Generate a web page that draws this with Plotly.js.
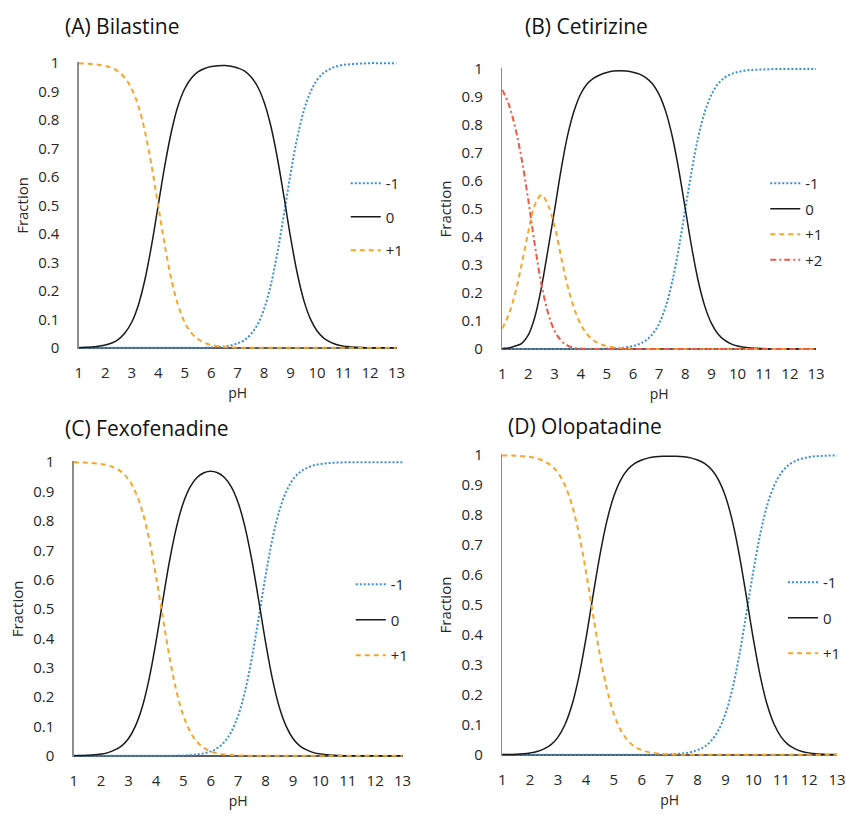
<!DOCTYPE html>
<html>
<head>
<meta charset="utf-8">
<script src="https://cdn.plot.ly/plotly-3.0.1.min.js"></script>
<style>html,body{margin:0;padding:0;background:#fff;}#chart{width:846px;height:816px;}</style>
</head>
<body>
<div id="chart"></div>
<script>
// pH grid (x values)
const pH = [1,1.25,1.5,1.75,2,2.25,2.5,2.75,3,3.25,3.5,3.75,4,4.25,4.5,4.75,5,5.25,5.5,5.75,6,6.25,6.5,6.75,7,7.25,7.5,7.75,8,8.25,8.5,8.75,9,9.25,9.5,9.75,10,10.25,10.5,10.75,11,11.25,11.5,11.75,12,12.25,12.5,12.75,13];

// (A) Bilastine
const A_m1 = [0,0,0,0,0,0,0,0,0,0,0,0,0,0,0,0,0,0,0,0,0.0016,0.003,0.005,0.009,0.016,0.027,0.048,0.082,0.137,0.22,0.334,0.47,0.613,0.738,0.834,0.899,0.941,0.966,0.98,0.989,0.994,0.996,0.998,0.999,1,1,1,1,1];
const A_0  = [0,0.002,0.003,0.006,0.01,0.017,0.03,0.053,0.09,0.15,0.24,0.36,0.5,0.64,0.76,0.85,0.91,0.947,0.969,0.981,0.988,0.991,0.992,0.989,0.983,0.973,0.952,0.918,0.863,0.78,0.666,0.53,0.387,0.262,0.166,0.101,0.059,0.034,0.02,0.011,0.006,0.004,0.002,0.001,0,0,0,0,0];
const A_p1 = [1,0.998,0.997,0.994,0.99,0.983,0.97,0.947,0.91,0.85,0.76,0.64,0.5,0.36,0.24,0.15,0.09,0.053,0.031,0.018,0.01,0.006,0.003,0.002,0.001,0,0,0,0,0,0,0,0,0,0,0,0,0,0,0,0,0,0,0,0,0,0,0,0];

// (B) Cetirizine
const B_m1 = [0,0,0,0,0,0,0,0,0,0,0,0,0,0,0,0,0.001,0.002,0.003,0.0056,0.01,0.018,0.031,0.053,0.091,0.151,0.24,0.36,0.5,0.64,0.76,0.849,0.909,0.947,0.969,0.982,0.99,0.994,0.997,0.998,0.999,1,1,1,1,1,1,1,1];
const B_0  = [0.001,0.003,0.01,0.02,0.05,0.115,0.22,0.355,0.495,0.64,0.763,0.851,0.911,0.948,0.968,0.98,0.988,0.993,0.994,0.993,0.989,0.982,0.969,0.947,0.909,0.849,0.76,0.64,0.5,0.36,0.24,0.151,0.091,0.053,0.031,0.018,0.01,0.006,0.003,0.002,0.001,0,0,0,0,0,0,0,0];
const B_p1 = [0.073,0.123,0.2,0.305,0.42,0.515,0.55,0.515,0.44,0.33,0.225,0.145,0.088,0.052,0.03,0.017,0.01,0.005,0.003,0.0015,0.001,0,0,0,0,0,0,0,0,0,0,0,0,0,0,0,0,0,0,0,0,0,0,0,0,0,0,0,0];
const B_p2 = [0.926,0.874,0.79,0.675,0.53,0.37,0.23,0.13,0.065,0.03,0.012,0.004,0.001,0,0,0,0,0,0,0,0,0,0,0,0,0,0,0,0,0,0,0,0,0,0,0,0,0,0,0,0,0,0,0,0,0,0,0,0];

// (C) Fexofenadine
const C_m1 = [0,0,0,0,0,0,0,0,0,0,0,0,0,0.0003,0.0005,0.0007,0.0014,0.0026,0.0047,0.0086,0.015,0.027,0.0475,0.082,0.137,0.22,0.334,0.471,0.613,0.738,0.834,0.899,0.941,0.966,0.98,0.989,0.994,0.9965,0.998,0.999,1,1,1,1,1,1,1,1,1];
const C_0  = [0.0006,0.0011,0.002,0.0035,0.0063,0.011,0.02,0.034,0.059,0.101,0.166,0.262,0.387,0.529,0.666,0.779,0.862,0.916,0.948,0.964,0.969,0.964,0.948,0.916,0.862,0.779,0.666,0.529,0.387,0.262,0.166,0.101,0.059,0.034,0.02,0.011,0.006,0.0035,0.002,0.001,0,0,0,0,0,0,0,0,0];
const C_p1 = [0.9994,0.9989,0.998,0.9965,0.9937,0.989,0.98,0.966,0.941,0.899,0.834,0.738,0.613,0.471,0.334,0.22,0.137,0.082,0.0475,0.027,0.015,0.0086,0.0047,0.0026,0.0014,0.0007,0.0003,0,0,0,0,0,0,0,0,0,0,0,0,0,0,0,0,0,0,0,0,0,0];

// (D) Olopatadine
const D_m1 = [0,0,0,0,0,0,0,0,0,0,0,0,0,0,0,0,0,0,0,0,0.0002,0.0003,0.0005,0.0009,0.0016,0.0028,0.005,0.009,0.016,0.027,0.048,0.082,0.137,0.22,0.334,0.471,0.613,0.738,0.834,0.899,0.941,0.966,0.98,0.989,0.994,0.9965,0.998,0.999,0.999];
const D_0  = [0.0006,0.0011,0.002,0.0035,0.0063,0.011,0.02,0.034,0.059,0.101,0.166,0.262,0.387,0.529,0.666,0.78,0.863,0.918,0.952,0.9725,0.984,0.991,0.9945,0.9963,0.9968,0.9963,0.9945,0.991,0.984,0.9725,0.952,0.918,0.863,0.78,0.666,0.529,0.387,0.262,0.166,0.101,0.059,0.034,0.02,0.011,0.0063,0.0035,0.002,0.0011,0.0006];
const D_p1 = [0.999,0.999,0.998,0.9965,0.994,0.989,0.98,0.966,0.941,0.899,0.834,0.738,0.613,0.471,0.334,0.22,0.137,0.082,0.048,0.027,0.016,0.009,0.005,0.003,0.0016,0.0009,0.0005,0.0003,0,0,0,0,0,0,0,0,0,0,0,0,0,0,0,0,0,0,0,0,0];

const panelTitles = ['(A) Bilastine','(B) Cetirizine','(C) Fexofenadine','(D) Olopatadine'];
const seriesNames = ['-1','0','+1','+2'];
const xTitle = 'pH', yTitle = 'Fraction';

const W = 846, H = 816;
const BLUE = '#3a8ee0', BLACK = '#1a1a1a', ORANGE = '#f7a52a', RED = '#ef5a44';
const TXT = '#262626';
const styles = {
  '-1': {color: BLUE, dash: '2px,2px', width: 2},
  '0':  {color: BLACK, dash: 'solid', width: 1.5},
  '+1': {color: ORANGE, dash: '5px,4px', width: 2},
  '+2': {color: RED, dash: '6px,3px,2px,3px', width: 2}
};

const panels = [
  {ax: '', leg: 'legend', series: [A_m1, A_0, A_p1]},
  {ax: '2', leg: 'legend2', series: [B_m1, B_0, B_p1, B_p2]},
  {ax: '3', leg: 'legend3', series: [C_m1, C_0, C_p1]},
  {ax: '4', leg: 'legend4', series: [D_m1, D_0, D_p1]}
];

const traces = [];
panels.forEach((p, pi) => {
  p.series.forEach((ys, si) => {
    const name = seriesNames[si];
    const st = styles[name];
    traces.push({
      x: pH, y: ys, type: 'scatter', mode: 'lines', name: name,
      xaxis: 'x' + p.ax, yaxis: 'y' + p.ax, legend: p.leg,
      legendgroup: 'p' + pi + 's' + si,
      line: {color: st.color, dash: st.dash, width: st.width, shape: 'spline', smoothing: 1},
      hoverinfo: 'skip'
    });
  });
});

// plot boxes in pixels: [left, right, top, bottom]
const boxes = [[79,398,62,349],[504,819,68,350],[74,404,461,757],[504,840,454,756]];
const font = 'Open Sans, Liberation Sans, sans-serif';
const layout = {
  width: W, height: H, margin: {l:0,r:0,t:0,b:0},
  paper_bgcolor: '#fff', plot_bgcolor: '#fff',
  font: {family: font, color: TXT, size: 15},
  annotations: [], showlegend: true
};
boxes.forEach((b, i) => {
  const s = i === 0 ? '' : String(i + 1);
  layout['xaxis' + s] = {
    domain: [b[0]/W, b[1]/W], anchor: 'y' + s, range: [1, 13],
    tickmode: 'linear', tick0: 1, dtick: 1, showgrid: false, zeroline: false,
    showline: false, ticks: '', ticklabelstandoff: 13, ticklabeloverflow: 'allow',
    tickfont: {size: 15, color: TXT, family: font},
    title: {text: xTitle, font: {size: 14, color: TXT, family: font}, standoff: 7}
  };
  layout['yaxis' + s] = {
    domain: [1 - b[3]/H, 1 - b[2]/H], anchor: 'x' + s, range: [-0.004, 1.004],
    tickmode: 'linear', tick0: 0, dtick: 0.1, showgrid: false,
    zeroline: true, zerolinecolor: '#5a5a5a', zerolinewidth: 1.5,
    showline: true, linecolor: '#8c8c8c', linewidth: 1.5, ticks: '', ticklabelstandoff: 15,
    tickfont: {size: 15, color: TXT, family: font},
    title: {text: yTitle, font: {size: 15, color: TXT, family: font}, standoff: 6}
  };
});

const titlePos = [[63,26],[525,26],[63,428],[508,426]];
titlePos.forEach((t, i) => {
  layout.annotations.push({
    text: panelTitles[i], xref: 'paper', yref: 'paper', x: t[0]/W, y: 1 - t[1]/H,
    xanchor: 'left', yanchor: 'middle', showarrow: false,
    font: {size: 21, color: '#111', family: font}
  });
});

// legends: [left px, top px, gap]
const legPos = [[347,167,11],[768,167,3],[352,568,13],[786,566,13]];
['legend','legend2','legend3','legend4'].forEach((k, i) => {
  const L = legPos[i];
  layout[k] = {
    x: L[0]/W, y: 1 - L[1]/H, xanchor: 'left', yanchor: 'top',
    xref: 'paper', yref: 'paper',
    bgcolor: 'rgba(0,0,0,0)', borderwidth: 0,
    traceorder: 'grouped', tracegroupgap: L[2], itemwidth: 30,
    font: {size: 15, color: TXT, family: font}
  };
});

Plotly.newPlot('chart', traces, layout, {staticPlot: true, displayModeBar: false});
</script>
</body>
</html>
